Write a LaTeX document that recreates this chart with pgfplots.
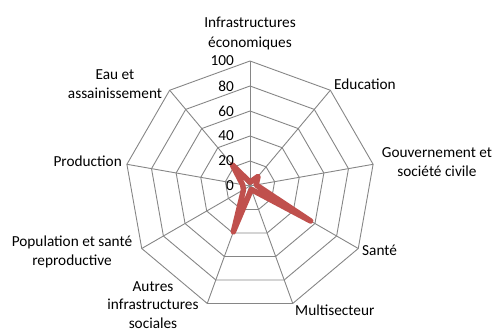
\documentclass[border=0pt]{standalone}
\usepackage{fontspec}
\setmainfont{Carlito}
\usepackage{pgfplots}
\pgfplotsset{compat=1.18}
\definecolor{gridgray}{RGB}{134,134,134}
\definecolor{serred}{RGB}{192,80,77}
\begin{document}
\begin{tikzpicture}
\begin{axis}[
  name=ax,
  hide axis, x=1.25bp, y=1.25bp,
  xmin=-200, xmax=196, ymin=-117.6, ymax=148.8,
  clip=false,
  every axis plot/.append style={data cs=polar},
]
% rings
\addplot[gridgray, line width=0.9bp] coordinates {(90,20) (50,20) (10,20) (-30,20) (-70,20) (-110,20) (-150,20) (-190,20) (-230,20) (90,20)};
\addplot[gridgray, line width=0.9bp] coordinates {(90,40) (50,40) (10,40) (-30,40) (-70,40) (-110,40) (-150,40) (-190,40) (-230,40) (90,40)};
\addplot[gridgray, line width=0.9bp] coordinates {(90,60) (50,60) (10,60) (-30,60) (-70,60) (-110,60) (-150,60) (-190,60) (-230,60) (90,60)};
\addplot[gridgray, line width=0.9bp] coordinates {(90,80) (50,80) (10,80) (-30,80) (-70,80) (-110,80) (-150,80) (-190,80) (-230,80) (90,80)};
\addplot[gridgray, line width=0.9bp] coordinates {(90,100) (50,100) (10,100) (-30,100) (-70,100) (-110,100) (-150,100) (-190,100) (-230,100) (90,100)};
% spokes
\addplot[gridgray, line width=0.9bp] coordinates {(90,0) (90,100)};
\addplot[gridgray, line width=0.9bp] coordinates {(50,0) (50,100)};
\addplot[gridgray, line width=0.9bp] coordinates {(10,0) (10,100)};
\addplot[gridgray, line width=0.9bp] coordinates {(-30,0) (-30,100)};
\addplot[gridgray, line width=0.9bp] coordinates {(-70,0) (-70,100)};
\addplot[gridgray, line width=0.9bp] coordinates {(-110,0) (-110,100)};
\addplot[gridgray, line width=0.9bp] coordinates {(-150,0) (-150,100)};
\addplot[gridgray, line width=0.9bp] coordinates {(-190,0) (-190,100)};
\addplot[gridgray, line width=0.9bp] coordinates {(-230,0) (-230,100)};
% data
\addplot[serred, line width=5.5bp, line join=round, line cap=round] coordinates {
 (90,3) (50,10) (10,5) (-30,56) (-70,3) (-110,39) (-150,6) (-190,6) (-230,22) (90,3)};
\end{axis}
\begin{axis}[
  hide axis, x=1.25bp, y=1.25bp,
  xmin=-200, xmax=196, ymin=-117.6, ymax=148.8,
  clip=false,
]
\begin{scope}[every node/.style={font=\fontsize{15.3bp}{18.5bp}\selectfont, inner sep=0pt, text=black}]
\node[anchor=east] at (axis cs:-12.8,0) {0};
\node[anchor=east] at (axis cs:-12.8,20) {20};
\node[anchor=east] at (axis cs:-12.8,40) {40};
\node[anchor=east] at (axis cs:-12.8,60) {60};
\node[anchor=east] at (axis cs:-12.8,80) {80};
\node[anchor=east] at (axis cs:-12.8,100) {100};
\node[align=center, font=\fontsize{15.3bp}{20bp}\selectfont] at (axis cs:0,122.4) {Infrastructures\\économiques};
\node[anchor=west] at (axis cs:67.2,81.6) {Education};
\node[align=center] at (axis cs:149.6,19.2) {Gouvernement et\\société civile};
\node[anchor=west] at (axis cs:89.6,-51.2) {Santé};
\node[anchor=west] at (axis cs:36,-99.2) {Multisecteur};
\node[align=center] at (axis cs:-77.6,-95.2) {Autres\\infrastructures\\sociales};
\node[align=center] at (axis cs:-142.4,-52.8) {Population et santé\\reproductive};
\node[anchor=east] at (axis cs:-102.4,20) {Production};
\node[align=center] at (axis cs:-108,81.6) {Eau et\\assainissement};
\end{scope}
\end{axis}
\pgfresetboundingbox
\path[use as bounding box] (ax.south west) rectangle (ax.north east);
\end{tikzpicture}
\end{document}
